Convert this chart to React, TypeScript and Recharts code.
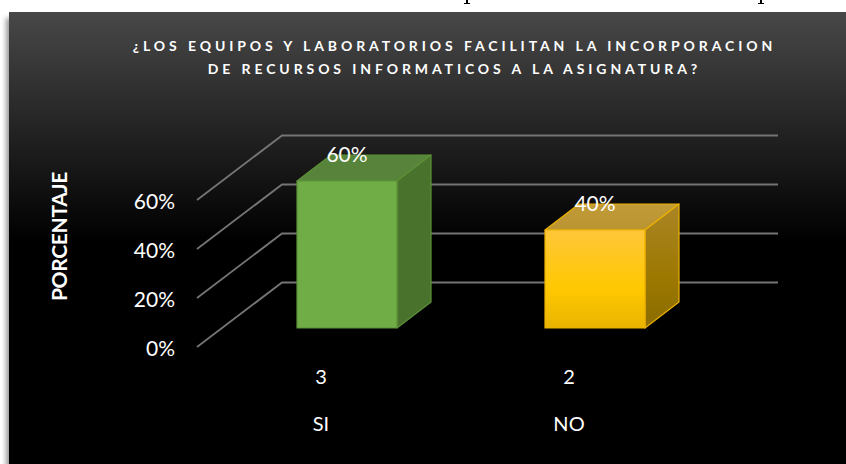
import {Bar, BarChart, CartesianGrid, LabelList, XAxis, YAxis} from "recharts";

const categories = ["SI", "NO"];
const counts = ["3", "2"];
const percents = [0.6, 0.4];
const yTicks = [0, 0.2, 0.4, 0.6];
const titleLines = [
    "¿LOS EQUIPOS Y LABORATORIOS FACILITAN LA INCORPORACION",
    "DE RECURSOS INFORMATICOS A LA ASIGNATURA?",
];

const data = categories.map((name, i) => ({name, count: counts[i], value: percents[i]}));

const FONT = "Lato, 'Open Sans', sans-serif";
// offsets for the fake 3d look
const WALL_DX = 85;
const WALL_DY = 64.5;
const BAR_DX = 26;
const BAR_DY = 19;
const CUBE_DX = 34;
const CUBE_DY = 26;

const faces = [
    {front: "#70ad47", top: "#57843a", side: "#49722c", stroke: "#5c9138"},
    {front: "url(#yellowFront)", top: "url(#yellowTop)", side: "url(#yellowSide)", stroke: "#ebb000"},
];

const Cube = (props: any) => {
    const {index, width, height} = props;
    const x = props.x + BAR_DX;
    const y = props.y - BAR_DY;
    const f = faces[index];
    return <g stroke={f.stroke} strokeWidth={1.2} strokeLinejoin="round">
        <path d={`M${x},${y} l${CUBE_DX},${-CUBE_DY} h${width} l${-CUBE_DX},${CUBE_DY} z`} fill={f.top}/>
        <path d={`M${x + width},${y} l${CUBE_DX},${-CUBE_DY} v${height} l${-CUBE_DX},${CUBE_DY} z`} fill={f.side}/>
        <rect x={x} y={y} width={width} height={height} fill={f.front}/>
    </g>
};

const WallLine = (props: any) => {
    const {x1, x2, y1} = props;
    return <path
        d={`M${x1},${y1} L${x1 + WALL_DX},${y1 - WALL_DY} L${x2 + WALL_DX},${y1 - WALL_DY}`}
        fill="none"
        stroke="#757575"
        strokeWidth={1.8}
    />
};

const BarValue = (props: any) => {
    const {x, y, width, value} = props;
    return <text
        x={x + width / 2 + BAR_DX}
        y={y - BAR_DY - 26}
        dy="0.35em"
        textAnchor="middle"
        fill="#ffffff"
        fontFamily={FONT}
        fontSize={21}
    >
        {Math.round(value * 100)}%
    </text>
};

const AxisTitle = () => <text
    transform="translate(67,236.5) rotate(-90)"
    textAnchor="middle"
    fill="#ffffff"
    fontFamily={FONT}
    fontWeight={700}
    fontSize={21}
    letterSpacing={-0.3}
>
    PORCENTAJE
</text>;

// tails of the document line cut off above the chart
const Tail = ({left}: {left: number}) => <>
    <div style={{position: "absolute", left, top: 0, width: 2, height: 3, background: "#000000"}}/>
    <div style={{position: "absolute", left: left - 2, top: 3, width: 6, height: 1, background: "#000000"}}/>
</>;

export default function App() {
    return <div style={{position: "absolute", left: 0, top: 0, width: 846, height: 464, overflow: "hidden", background: "#ffffff"}}>
        <Tail left={466}/>
        <Tail left={760}/>
        <div style={{
            position: "absolute",
            left: 9,
            top: 12,
            width: 837,
            height: 452,
            background: "linear-gradient(#484848 0px, #000000 230px)",
            boxShadow: "-3px 6px 5px rgba(0,0,0,0.4)",
        }}/>
        <div style={{
            position: "absolute",
            left: 0,
            top: 34,
            width: 909,
            textAlign: "center",
            color: "#ffffff",
            fontFamily: FONT,
            fontWeight: 700,
            fontSize: 14,
            letterSpacing: 3.9,
            lineHeight: "23px",
        }}>
            {titleLines.map(line => <div key={line}>{line}</div>)}
        </div>
        <BarChart
            style={{position: "absolute", left: 0, top: 0}}
            width={846}
            height={464}
            data={data}
            barSize={100}
            margin={{top: 200, right: 153, bottom: 0, left: 0}}
        >
            <defs>
                <linearGradient id="yellowFront" x1="0" y1="0" x2="0" y2="1">
                    <stop offset="0%" stopColor="#ffc73a"/>
                    <stop offset="60%" stopColor="#ffc800"/>
                    <stop offset="100%" stopColor="#e9b400"/>
                </linearGradient>
                <linearGradient id="yellowTop" x1="0" y1="0" x2="0" y2="1">
                    <stop offset="0%" stopColor="#c09b38"/>
                    <stop offset="100%" stopColor="#bb9432"/>
                </linearGradient>
                <linearGradient id="yellowSide" x1="0" y1="0" x2="0" y2="1">
                    <stop offset="0%" stopColor="#ab8526"/>
                    <stop offset="60%" stopColor="#9c7800"/>
                    <stop offset="100%" stopColor="#8a6c00"/>
                </linearGradient>
            </defs>
            <CartesianGrid vertical={false} horizontal={WallLine}/>
            <XAxis
                xAxisId="count"
                dataKey="count"
                height={47}
                axisLine={false}
                tickLine={false}
                tickMargin={17}
                tick={{fill: "#ffffff", fontFamily: FONT, fontSize: 20}}
            />
            <XAxis
                xAxisId="name"
                dataKey="name"
                height={70}
                axisLine={false}
                tickLine={false}
                tickMargin={17}
                tick={{fill: "#ffffff", fontFamily: FONT, fontSize: 20}}
            />
            <YAxis
                width={197}
                domain={[0, 0.6]}
                ticks={yTicks}
                tickFormatter={v => `${Math.round(v * 100)}%`}
                axisLine={false}
                tickLine={false}
                tickMargin={16}
                tick={{fill: "#ffffff", fontFamily: FONT, fontSize: 21, dy: 2}}
                label={{content: AxisTitle}}
            />
            <Bar xAxisId="count" dataKey="value" shape={Cube} isAnimationActive={false}>
                <LabelList dataKey="value" content={BarValue}/>
            </Bar>
        </BarChart>
    </div>
}
